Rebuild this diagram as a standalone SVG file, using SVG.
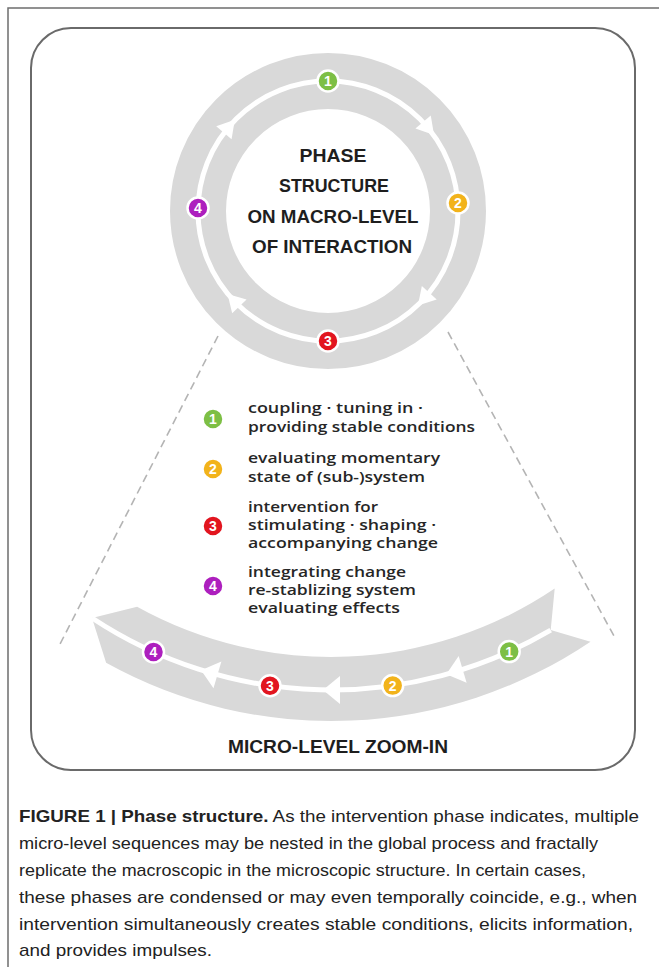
<svg xmlns="http://www.w3.org/2000/svg" width="659" height="967" viewBox="0 0 659 967">
<style>
.ring{fill:none;stroke:#d9d9d9;stroke-width:56}
.track{fill:none;stroke:#ffffff;stroke-width:5}
.band{fill:#d9d9d9}
.arr{fill:#ffffff}
.dash{stroke:#b4b4b4;stroke-width:1.6;stroke-dasharray:8 5;fill:none}
.b circle{stroke:#ffffff;stroke-width:2.5}
.b text{font-family:"Liberation Sans",Arial,sans-serif;font-weight:bold;font-size:14px;fill:#ffffff;text-anchor:middle}
.g{fill:#7dbf45}.y{fill:#f2b31b}.r{fill:#e2151f}.p{fill:#ad1fbe}
.title{font-family:"Liberation Sans",Arial,sans-serif;font-weight:bold;font-size:18.5px;fill:#1e1e1e;text-anchor:middle}
.leg{font-family:"Open Sans","DejaVu Sans",sans-serif;font-weight:600;font-size:15px;fill:#262626}
.cap{font-family:"Liberation Sans",Arial,sans-serif;font-size:17px;fill:#222222}
.capb{font-weight:bold}
</style>
<rect x="0" y="0" width="659" height="967" fill="#ffffff"/>
<rect x="8" y="8" width="670" height="980" fill="none" stroke="#6e6e6e" stroke-width="1.5"/>
<rect id="frame" x="31" y="28" width="604" height="742" rx="40" ry="40" fill="#ffffff" stroke="#6a6a6a" stroke-width="2"/>

<g id="connectors">
<line class="dash" x1="218" y1="336" x2="58" y2="648"/>
<line class="dash" x1="448" y1="332" x2="614" y2="636"/>
</g>

<g id="macro-cycle">
<circle class="ring" cx="328" cy="211" r="130"/>
<circle class="track" cx="328" cy="211" r="130"/>
<polygon class="arr" points="10,0 -7,-10 -7,10" transform="translate(228.4,127.4) rotate(-50)"/>
<polygon class="arr" points="10,0 -7,-10 -7,10" transform="translate(427.6,127.4) rotate(50)"/>
<polygon class="arr" points="10,0 -7,-10 -7,10" transform="translate(424.6,298) rotate(132)"/>
<polygon class="arr" points="10,0 -7,-10 -7,10" transform="translate(234.5,301.3) rotate(226)"/>
</g>

<g id="macro-title">
<text class="title" x="333" y="162" textLength="67" lengthAdjust="spacingAndGlyphs">PHASE</text>
<text class="title" x="334" y="192" textLength="110" lengthAdjust="spacingAndGlyphs">STRUCTURE</text>
<text class="title" x="333" y="223" textLength="171" lengthAdjust="spacingAndGlyphs">ON MACRO-LEVEL</text>
<text class="title" x="332" y="253" textLength="160" lengthAdjust="spacingAndGlyphs">OF INTERACTION</text>
</g>

<g id="macro-1" class="b"><circle class="g" cx="328" cy="81" r="10.5"/><text x="328" y="86">1</text></g>
<g id="macro-2" class="b"><circle class="y" cx="458" cy="203" r="10.5"/><text x="458" y="208">2</text></g>
<g id="macro-3" class="b"><circle class="r" cx="328" cy="341" r="10.5"/><text x="328" y="346">3</text></g>
<g id="macro-4" class="b"><circle class="p" cx="198" cy="208" r="10.5"/><text x="198" y="213">4</text></g>

<g id="legend-1">
<g class="b"><circle class="g" cx="213" cy="419" r="10.5"/><text x="213" y="424">1</text></g>
<text class="leg" x="248" y="413" textLength="175" lengthAdjust="spacingAndGlyphs">coupling · tuning in ·</text>
<text class="leg" x="248" y="432" textLength="227" lengthAdjust="spacingAndGlyphs">providing stable conditions</text>
</g>
<g id="legend-2">
<g class="b"><circle class="y" cx="213" cy="469" r="10.5"/><text x="213" y="474">2</text></g>
<text class="leg" x="248" y="463" textLength="192" lengthAdjust="spacingAndGlyphs">evaluating momentary</text>
<text class="leg" x="248" y="481.5" textLength="177" lengthAdjust="spacingAndGlyphs">state of (sub-)system</text>
</g>
<g id="legend-3">
<g class="b"><circle class="r" cx="213" cy="526" r="10.5"/><text x="213" y="531">3</text></g>
<text class="leg" x="248" y="512" textLength="130" lengthAdjust="spacingAndGlyphs">intervention for</text>
<text class="leg" x="248" y="530" textLength="188" lengthAdjust="spacingAndGlyphs">stimulating · shaping ·</text>
<text class="leg" x="248" y="548" textLength="190" lengthAdjust="spacingAndGlyphs">accompanying change</text>
</g>
<g id="legend-4">
<g class="b"><circle class="p" cx="213" cy="586" r="10.5"/><text x="213" y="591">4</text></g>
<text class="leg" x="248" y="577" textLength="158" lengthAdjust="spacingAndGlyphs">integrating change</text>
<text class="leg" x="248" y="595" textLength="168" lengthAdjust="spacingAndGlyphs">re-stablizing system</text>
<text class="leg" x="248" y="613" textLength="152" lengthAdjust="spacingAndGlyphs">evaluating effects</text>
</g>

<g id="micro-band">
<path class="band" d="M92,618 L137.1,606.8 A400,400 0 0 0 554.7,588.6 L550.7,630.1 L590.5,641.7 A464,464 0 0 1 106.1,662.8 Z"/>
<path class="track" d="M550.7,630.1 A433,433 0 0 1 92,618"/>
<polygon class="arr" points="8,0 -9,-14 -9,14" transform="translate(208.8,672.4) rotate(196.4)"/>
<polygon class="arr" points="8,0 -9,-14 -9,14" transform="translate(331,690) rotate(180)"/>
<polygon class="arr" points="8,0 -9,-14 -9,14" transform="translate(454,672) rotate(163.5)"/>
</g>
<g id="micro-4" class="b"><circle class="p" cx="153.5" cy="652" r="10.5"/><text x="153.5" y="657">4</text></g>
<g id="micro-3" class="b"><circle class="r" cx="270" cy="685.7" r="10.5"/><text x="270" y="690.7">3</text></g>
<g id="micro-2" class="b"><circle class="y" cx="392.7" cy="685.6" r="10.5"/><text x="392.7" y="690.6">2</text></g>
<g id="micro-1" class="b"><circle class="g" cx="509.2" cy="651.6" r="10.5"/><text x="509.2" y="656.6">1</text></g>

<g id="micro-title">
<text class="title" x="228" y="753" style="text-anchor:start;font-size:19px" textLength="220" lengthAdjust="spacingAndGlyphs">MICRO-LEVEL ZOOM-IN</text>
</g>

<g id="caption">
<text class="cap" x="19" y="822" textLength="620" lengthAdjust="spacingAndGlyphs"><tspan class="capb">FIGURE 1 | Phase structure.</tspan> As the intervention phase indicates, multiple</text>
<text class="cap" x="19" y="849" textLength="579" lengthAdjust="spacingAndGlyphs">micro-level sequences may be nested in the global process and fractally</text>
<text class="cap" x="19" y="876" textLength="567" lengthAdjust="spacingAndGlyphs">replicate the macroscopic in the microscopic structure. In certain cases,</text>
<text class="cap" x="19" y="903" textLength="618" lengthAdjust="spacingAndGlyphs">these phases are condensed or may even temporally coincide, e.g., when</text>
<text class="cap" x="19" y="930" textLength="614" lengthAdjust="spacingAndGlyphs">intervention simultaneously creates stable conditions, elicits information,</text>
<text class="cap" x="19" y="956" textLength="193" lengthAdjust="spacingAndGlyphs">and provides impulses.</text>
</g>
</svg>
